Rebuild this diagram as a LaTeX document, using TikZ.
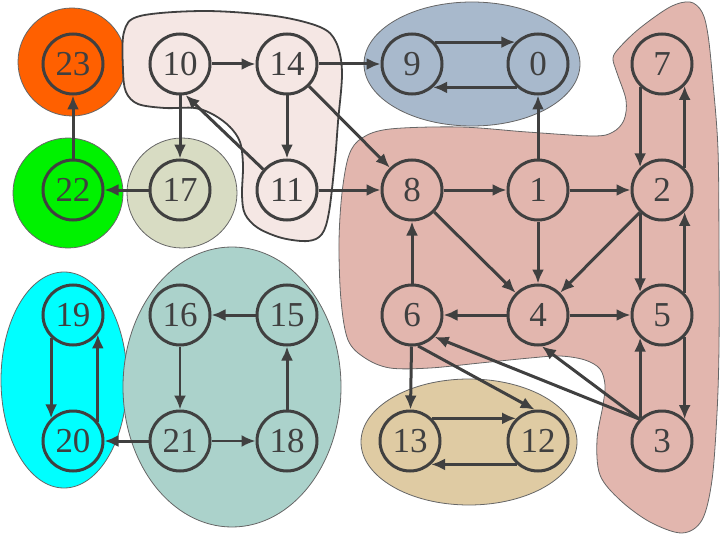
\documentclass[tikz,border=0pt]{standalone}
\usepackage{fontspec}
\setmainfont{Liberation Serif}
\usetikzlibrary{arrows.meta}
\definecolor{ink}{HTML}{404040}
\definecolor{corange}{HTML}{FF6000}
\definecolor{cgreen}{HTML}{00F200}
\definecolor{colive}{HTML}{D8DCC3}
\definecolor{cpink}{HTML}{F5E7E4}
\definecolor{cblue}{HTML}{A8B9CC}
\definecolor{csalmon}{HTML}{E2B6AE}
\definecolor{ccyan}{HTML}{00FFFF}
\definecolor{cteal}{HTML}{ABD2CB}
\definecolor{ctan}{HTML}{DFCBA3}
\begin{document}
\begin{tikzpicture}[x=1pt,y=-1pt,
  vert/.style={circle,draw=ink,line width=3pt,minimum size=60pt,inner sep=0pt,
    text=ink,font=\fontsize{35}{35}\selectfont},
  edge/.style={draw=ink,line width=3pt,-{Latex[length=14pt,width=12pt]}},
  thinedge/.style={edge,line width=2.3pt},
  hull/.style={draw=ink!80,line width=0.8pt},
  hullb/.style={draw=ink,line width=1.8pt}]
\useasboundingbox (0,0) rectangle (721,535);
% cluster backgrounds
\fill[corange,hull] (72,62) circle (54);
\fill[cgreen,hull] (68,193) circle (55);
\fill[colive,hull] (182,193) circle (55);
\fill[cblue,hull] (472,64) ellipse [x radius=108,y radius=62];
\fill[ccyan,hull] (64,380) ellipse [x radius=63,y radius=108];
\fill[cteal,hull] (232,387) ellipse [x radius=109,y radius=140];
\fill[ctan,hull] (469,442) ellipse [x radius=108,y radius=63];
\fill[cpink,hullb] plot[smooth cycle,tension=0.55] coordinates {
  (140,16) (205,11) (275,16) (320,27) (336,42) (342,72) (338,122) (335,160)
  (329,212) (322,234) (308,241) (282,238) (258,228) (245,214) (242,195)
  (243,165) (240,142) (230,127) (214,115) (195,108) (165,108) (138,104)
  (126,92) (123,70) (124,32)};
\fill[csalmon,hull] plot[smooth cycle,tension=0.55] coordinates {
  (390,129) (460,127) (527,132) (593,136) (613,132) (624,120) (626,100)
  (617,73) (613,58) (620,47) (640,28) (670,7) (690,2) (702,12) (708,35)
  (713,83) (718,150) (719,250) (719,347) (717,413) (712,480) (702,520)
  (682,533) (650,522) (620,500) (600,475) (597,440) (603,405) (605,385)
  (600,369) (585,360) (560,356) (530,358) (480,363) (430,368) (390,368)
  (365,358) (348,340) (341,300) (339,243) (342,193) (349,155) (362,138)};
% nodes
\node[vert] (n23) at (73,64) {23};
\node[vert] (n10) at (180,64) {10};
\node[vert] (n14) at (287,64) {14};
\node[vert] (n9) at (412,64) {9};
\node[vert] (n0) at (538,64) {0};
\node[vert] (n7) at (662,64) {7};
\node[vert] (n22) at (73,190) {22};
\node[vert] (n17) at (180,190) {17};
\node[vert] (n11) at (287,190) {11};
\node[vert] (n8) at (412,190) {8};
\node[vert] (n1) at (538,190) {1};
\node[vert] (n2) at (662,190) {2};
\node[vert] (n19) at (73,315) {19};
\node[vert] (n16) at (180,315) {16};
\node[vert] (n15) at (287,315) {15};
\node[vert] (n6) at (412,315) {6};
\node[vert] (n4) at (538,315) {4};
\node[vert] (n5) at (662,315) {5};
\node[vert] (n20) at (73,441) {20};
\node[vert] (n21) at (180,441) {21};
\node[vert] (n18) at (287,441) {18};
\node[vert] (n13) at (410,441) {13};
\node[vert] (n12) at (538,441) {12};
\node[vert] (n3) at (662,441) {3};
% edges
\draw[edge] (n22) -- (n23);
\draw[edge] (n17) -- (n22);
\draw[edge] (n10) -- (n14);
\draw[edge] (n10) -- (n17);
\draw[edge] (n14) -- (n9);
\draw[edge] (n14) -- (n11);
\draw[edge] (n14) -- (n8);
\draw[edge] (n11.139) -- (n10.-80);
\draw[edge] (n11) -- (n8);
\draw[edge] (n9.44) -- (n0.136);
\draw[edge] (n0.-132) -- (n9.-48);
\draw[edge] (n8) -- (n1);
\draw[edge] (n8) -- (n4);
\draw[edge] (n1) -- (n0);
\draw[edge] (n1) -- (n2);
\draw[edge] (n1) -- (n4);
\draw[edge] (n2) -- (n4);
\draw[edge] (n7.-134) -- (n2.134);
\draw[edge] (n2.44) -- (n7.-44);
\draw[edge] (n2.-134) -- (n5.134);
\draw[edge] (n5.44) -- (n2.-44);
\draw[edge] (n5.-44) -- (n3.44);
\draw[edge] (n3.134) -- (n5.-134);
\draw[edge] (n3.136) -- (n6.-44);
\draw[edge] (n3.136) -- (n4.-83);
\draw[edge] (n4) -- (n6);
\draw[edge] (n4) -- (n5);
\draw[edge] (n6) -- (n8);
\draw[edge] (n6) -- (n13);
\draw[edge] (n6.-79) -- (n12.96);
\draw[edge] (n13.46) -- (n12.134);
\draw[edge] (n12.-132) -- (n13.-48);
\draw[edge] (n19.-134) -- (n20.134);
\draw[edge] (n20.38) -- (n19.-38);
\draw[edge] (n15) -- (n16);
\draw[thinedge] (n16) -- (n21);
\draw[edge] (n21) -- (n20);
\draw[thinedge] (n21) -- (n18);
\draw[edge] (n18) -- (n15);
\end{tikzpicture}
\end{document}
